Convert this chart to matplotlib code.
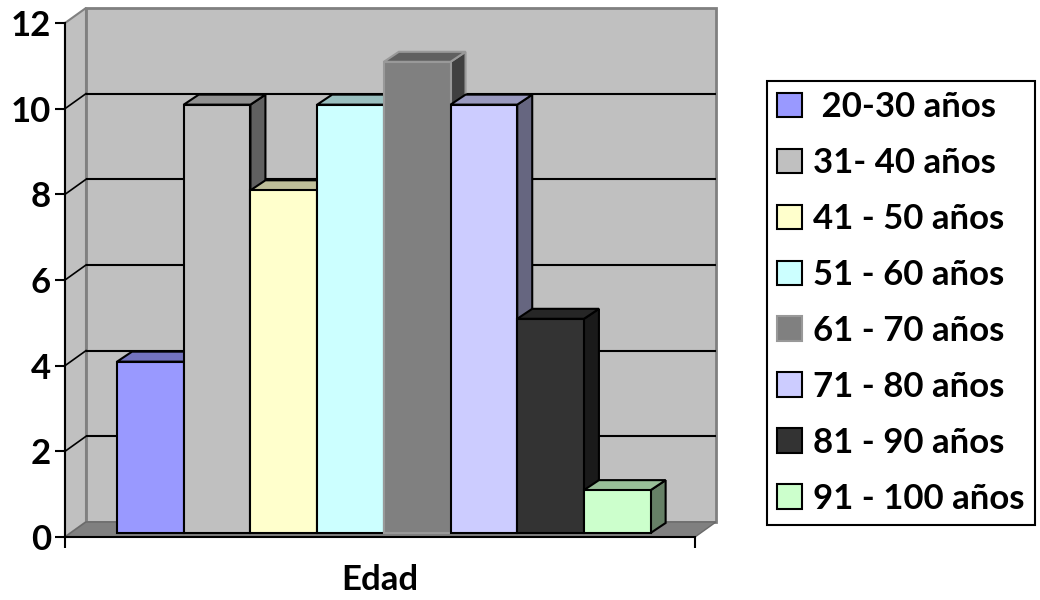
import matplotlib.pyplot as plt
from matplotlib.patches import Polygon, Patch
from matplotlib.colors import to_rgb

plt.rcParams['font.family'] = ['Lato', 'DejaVu Sans']
plt.rcParams['font.weight'] = 'bold'

# data
categories = [' 20-30 años', '31- 40 años', '41 - 50 años', '51 - 60 años',
              '61 - 70 años', '71 - 80 años', '81 - 90 años', '91 - 100 años']
values = [4, 10, 8, 10, 11, 10, 5, 1]
colors = ['#9999FF', '#C0C0C0', '#FFFFCC', '#CCFFFF',
          '#808080', '#CCCCFF', '#333333', '#CCFFCC']
edges = ['black', 'black', 'black', 'black', '#999999', 'black', 'black', 'black']
yticks = [0, 2, 4, 6, 8, 10, 12]
xlabel = 'Edad'

# fake 3d geometry (pixel sizes turned into data units)
px_x = 66.7   # px per bar
px_y = 42.75  # px per unit
x0, x1 = -0.78, -0.78 + 630 / px_x
wdx, wdy = 21 / px_x, 15 / px_y      # wall depth
bdx, bdy = 15 / px_x, 10 / px_y      # bar depth
bfy = 4 / px_y                       # bars sit slightly behind the front

fig = plt.figure(figsize=(10.4, 6), dpi=100)
ax = fig.add_axes([65 / 1040, 63 / 600, 630 / 1040, 514 / 600])
ax.set_xlim(x0, x1)
ax.set_ylim(0, 12)


def poly(pts, fc, ec, lw, z):
    ax.add_patch(Polygon(pts, closed=True, facecolor=fc, edgecolor=ec,
                         linewidth=lw, zorder=z, clip_on=False, joinstyle='miter'))


# walls and floor
poly([(x0 + wdx, wdy), (x1 + wdx, wdy), (x1 + wdx, 12 + wdy), (x0 + wdx, 12 + wdy)],
     '#C0C0C0', '#808080', 2, 0.5)
poly([(x0, 0), (x0, 12), (x0 + wdx, 12 + wdy), (x0 + wdx, wdy)],
     '#C0C0C0', '#808080', 1.5, 0.6)
poly([(x0, 0), (x1, 0), (x1 + wdx, wdy), (x0 + wdx, wdy)],
     '#808080', '#6a6a6a', 1, 0.7)

for v in yticks[1:-1]:
    ax.plot([x0 + wdx, x1 + wdx], [v + wdy, v + wdy], color='black', lw=1.5,
            zorder=0.8, clip_on=False, solid_capstyle='butt')
    ax.plot([x0, x0 + wdx], [v, v + wdy], color='black', lw=1.2,
            zorder=0.8, clip_on=False)

# bars
for i, (v, c, e) in enumerate(zip(values, colors, edges)):
    r, g, b = to_rgb(c)
    top = (r * 0.75, g * 0.75, b * 0.75)
    side = (r * 0.5, g * 0.5, b * 0.5)
    xl, xr = i, i + 1
    y0, y1 = bfy, v + bfy
    z = 2 + i * 0.1
    poly([(xr, y0), (xr + bdx, y0 + bdy), (xr + bdx, y1 + bdy), (xr, y1)], side, e, 1.5, z)
    poly([(xl, y1), (xr, y1), (xr + bdx, y1 + bdy), (xl + bdx, y1 + bdy)], top, e, 1.5, z)
    poly([(xl, y0), (xr, y0), (xr, y1), (xl, y1)], c, e, 1.5, z)

# axes
for s in ['top', 'right']:
    ax.spines[s].set_visible(False)
for s in ['left', 'bottom']:
    ax.spines[s].set_linewidth(1.5)
    ax.spines[s].set_zorder(5)
ax.set_yticks(yticks)
ax.set_xticks([x0, x1])
ax.set_xticklabels(['', ''])
ax.tick_params(axis='y', length=7, width=1.5, labelsize=25, pad=3)
ax.tick_params(axis='x', length=8, width=1.5)
ax.set_xlabel(xlabel, fontsize=25, fontweight='bold', labelpad=8)
ax.patch.set_visible(False)

handles = [Patch(facecolor=c, edgecolor=e, linewidth=1.5) for c, e in zip(colors, edges)]
fig.legend(handles, categories, loc='center left', bbox_to_anchor=(767 / 1040, 0.495),
           prop={'family': 'Lato', 'weight': 'bold', 'size': 25},
           frameon=True, fancybox=False, edgecolor='black', framealpha=1,
           handlelength=0.72, handleheight=0.72, handletextpad=0.3,
           labelspacing=0.69, borderpad=0.3, borderaxespad=0)
fig.legends[0].get_frame().set_linewidth(1.5)

fig.savefig('out.png', dpi=100)
